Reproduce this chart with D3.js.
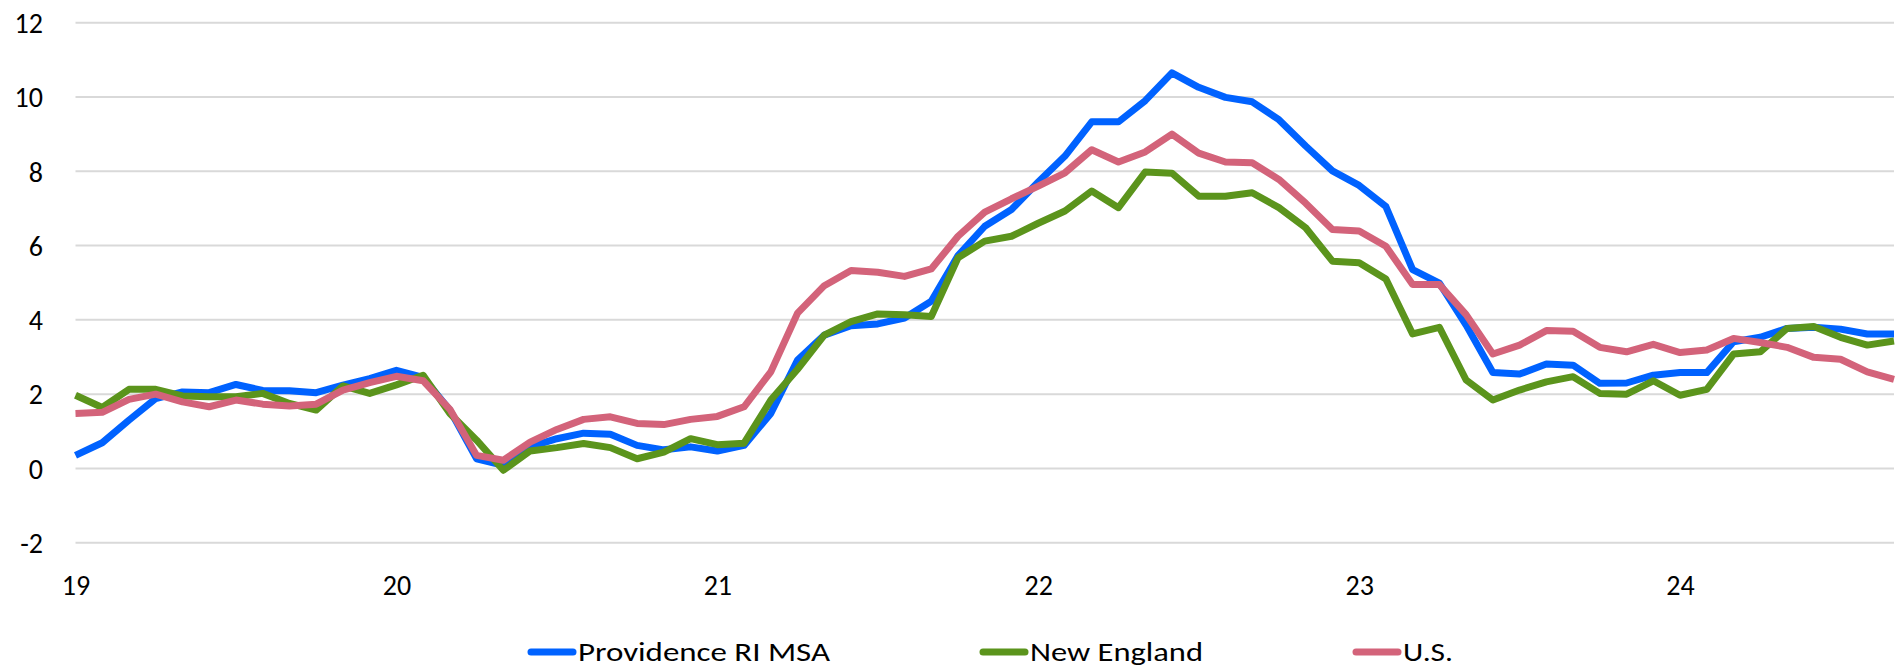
<!DOCTYPE html>
<html>
<head>
<meta charset="utf-8">
<script src="https://cdn.jsdelivr.net/npm/d3@7"></script>
<style>
  html, body { margin: 0; padding: 0; background: #fff; }
  svg { display: block; }
  text { font-family: Carlito, Lato, "Liberation Sans", sans-serif; fill: #000; }
</style>
</head>
<body>
<svg id="chart" width="1902" height="670"></svg>
<script>
// ---- data (monthly, Jan 2019 .. Sep 2024) ----
const yearLabels = ["19", "20", "21", "22", "23", "24"];
const yTicks = [-2, 0, 2, 4, 6, 8, 10, 12];
const seriesNames = ["Providence RI MSA", "New England", "U.S."];

const providence = [
  0.35, 0.69, 1.30, 1.88, 2.06, 2.04, 2.26, 2.10, 2.09, 2.04, 2.24, 2.42,
  2.64, 2.45, 1.57, 0.26, 0.08, 0.58, 0.80, 0.95, 0.92, 0.62, 0.50, 0.58,
  0.47, 0.62, 1.48, 2.92, 3.59, 3.84, 3.89, 4.05, 4.50, 5.73, 6.52, 6.97,
  7.71, 8.41, 9.33, 9.33, 9.90, 10.65, 10.26, 9.99, 9.87, 9.39, 8.68, 8.01,
  7.62, 7.05, 5.35, 4.99, 3.86, 2.58, 2.54, 2.81, 2.78, 2.29, 2.30, 2.51,
  2.58, 2.58, 3.41, 3.53, 3.77, 3.80, 3.75, 3.62, 3.62
];
const newEngland = [
  1.97, 1.64, 2.13, 2.13, 1.95, 1.93, 1.93, 2.02, 1.75, 1.57, 2.22, 2.02,
  2.25, 2.51, 1.48, 0.76, -0.05, 0.47, 0.56, 0.67, 0.56, 0.26, 0.44, 0.80,
  0.64, 0.68, 1.84, 2.67, 3.59, 3.95, 4.16, 4.14, 4.09, 5.67, 6.12, 6.25,
  6.60, 6.93, 7.47, 7.02, 7.98, 7.95, 7.33, 7.33, 7.42, 7.02, 6.48, 5.58,
  5.54, 5.10, 3.62, 3.80, 2.38, 1.84, 2.11, 2.33, 2.47, 2.02, 2.00, 2.36,
  1.97, 2.13, 3.08, 3.14, 3.77, 3.82, 3.53, 3.32, 3.43
];
const us = [
  1.48, 1.51, 1.86, 2.00, 1.79, 1.66, 1.84, 1.73, 1.68, 1.73, 2.11, 2.31,
  2.48, 2.36, 1.59, 0.35, 0.22, 0.71, 1.05, 1.32, 1.39, 1.21, 1.18, 1.32,
  1.40, 1.66, 2.60, 4.18, 4.92, 5.33, 5.28, 5.17, 5.37, 6.25, 6.90, 7.26,
  7.60, 7.96, 8.58, 8.25, 8.52, 9.00, 8.49, 8.25, 8.23, 7.78, 7.14, 6.43,
  6.39, 5.98, 4.95, 4.95, 4.14, 3.08, 3.32, 3.71, 3.69, 3.26, 3.14, 3.34,
  3.12, 3.19, 3.50, 3.39, 3.26, 2.99, 2.94, 2.60, 2.40
];
const seriesColors = ["#0062ff", "#5b941c", "#d3637a"];

// ---- layout ----
const svg = d3.select("#chart");
const plot = { left: 75.5, right: 1894, top: 22.7, bottom: 542.7 };
const n = providence.length;

const x = d3.scaleLinear().domain([0, n - 1]).range([plot.left, plot.right]);
const y = d3.scaleLinear().domain([-2, 12]).range([plot.bottom, plot.top]);

// gridlines
svg.append("g")
  .selectAll("line").data(yTicks).join("line")
  .attr("x1", plot.left).attr("x2", plot.right)
  .attr("y1", d => y(d)).attr("y2", d => y(d))
  .attr("stroke", "#d9d9d9").attr("stroke-width", 2);

// y axis labels (plain hyphen for negatives)
const yAxis = d3.axisLeft(y).tickValues(yTicks).tickSize(0).tickPadding(0)
  .tickFormat(d => String(d));
const gy = svg.append("g").attr("transform", `translate(43,0)`).call(yAxis);
gy.select(".domain").remove();
gy.selectAll("text").attr("font-size", 28).attr("font-family", null).attr("dy", "0.35em").attr("fill", "#000");

// x axis labels
const xTickIdx = yearLabels.map((_, i) => i * 12);
const xAxis = d3.axisBottom(x).tickValues(xTickIdx)
  .tickFormat((d, i) => yearLabels[i]).tickSize(0).tickPadding(0);
const gx = svg.append("g").attr("transform", `translate(0,585)`).call(xAxis);
gx.select(".domain").remove();
gx.selectAll("text").attr("font-size", 28).attr("font-family", null).attr("dy", "0.35em").attr("fill", "#000");

// lines
const line = d3.line().x((d, i) => x(i)).y(d => y(d));
const allSeries = [providence, newEngland, us];
svg.append("g").selectAll("path").data(allSeries).join("path")
  .attr("d", line)
  .attr("fill", "none")
  .attr("stroke", (d, i) => seriesColors[i])
  .attr("stroke-width", 7)
  .attr("stroke-linejoin", "round");

// legend
const legendX = [528, 980, 1353];
const legendTextW = [252, 173, 50];
const legendY = 652;
const lg = svg.append("g").selectAll("g").data(seriesNames).join("g")
  .attr("transform", (d, i) => `translate(${legendX[i]},${legendY})`);
lg.append("line").attr("x1", 3).attr("x2", 45).attr("y1", 0).attr("y2", 0)
  .attr("stroke", (d, i) => seriesColors[i]).attr("stroke-width", 7).attr("stroke-linecap", "round");
lg.append("text").attr("x", 50).attr("y", 0).attr("dy", "0.35em")
  .attr("font-size", 26)
  .attr("textLength", (d, i) => legendTextW[i])
  .attr("lengthAdjust", "spacingAndGlyphs")
  .text(d => d);
</script>
</body>
</html>
